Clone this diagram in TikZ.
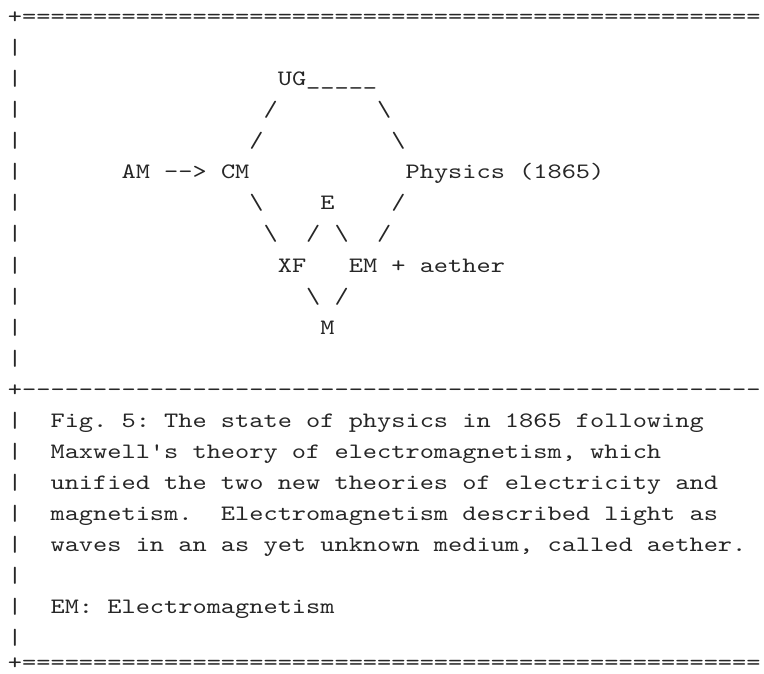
\documentclass[tikz,border=0pt]{standalone}
\usepackage{fontspec}
\setmonofont{lmmono10-regular.otf}

\begin{document}
\begin{tikzpicture}[
    x=14.2pt,       % one character column
    y=-31.05pt,     % one text row, downwards
    mono/.style={font=\ttfamily\frenchspacing\fontsize{22pt}{22pt}\selectfont,
        text=black!85, anchor=base west, inner sep=0pt, outer sep=0pt,
        xscale=1.2294, transform shape}
]
    % --- Frame of the page (764 x 673) ---
    \useasboundingbox (-8pt,23.6pt) rectangle (756pt,-649.4pt);

    % --- Border rows ---
    \node[mono] (topline) at (0,0)    {+====================================================};
    \node[mono] (midline) at (0,12)   {+----------------------------------------------------};
    \node[mono] (botline) at (0,20.8) {+====================================================};
    \foreach \r in {1,2,...,11}
        \node[mono] (bar\r) at (0,\r) {|};
    \foreach \r in {13,14,...,20}
        \node[mono] (bar\r) at (0,\r) {|};

    % --- Theories ---
    \node[mono] (ug)     at (19,2)  {UG};
    \node[mono] (ugline) at (21,2)  {\_\_\_\_\_};
    \node[mono] (am)     at (8,5)   {AM};
    \node[mono] (arr)    at (11,5)  {-->};
    \node[mono] (cm)     at (15,5)  {CM};
    \node[mono] (phys)   at (28,5)  {Physics (1865)};
    \node[mono] (e)      at (22,6)  {E};
    \node[mono] (xf)     at (19,8)  {XF};
    \node[mono] (em)     at (24,8)  {EM + aether};
    \node[mono] (m)      at (22,10) {M};

    % --- Links, as slashes ---
    \foreach \c/\r in {18/3, 17/4, 27/6, 21/7, 26/7, 23/9}
        \node[mono] (fs-\c-\r) at (\c,\r) {/};
    \foreach \c/\r in {26/3, 27/4, 17/6, 18/7, 23/7, 21/9}
        \node[mono] (bs-\c-\r) at (\c,\r) {\textbackslash};

    % --- Caption ---
    \node[mono] (cap1) at (3,13) {Fig. 5: The state of physics in 1865 following};
    \node[mono] (cap2) at (3,14) {Maxwell's theory of electromagnetism, which};
    \node[mono] (cap3) at (3,15) {unified the two new theories of electricity and};
    \node[mono] (cap4) at (3,16) {magnetism.\ \ Electromagnetism described light as};
    \node[mono] (cap5) at (3,17) {waves in an as yet unknown medium, called aether.};
    \node[mono] (key)  at (3,19) {EM: Electromagnetism};
\end{tikzpicture}
\end{document}
